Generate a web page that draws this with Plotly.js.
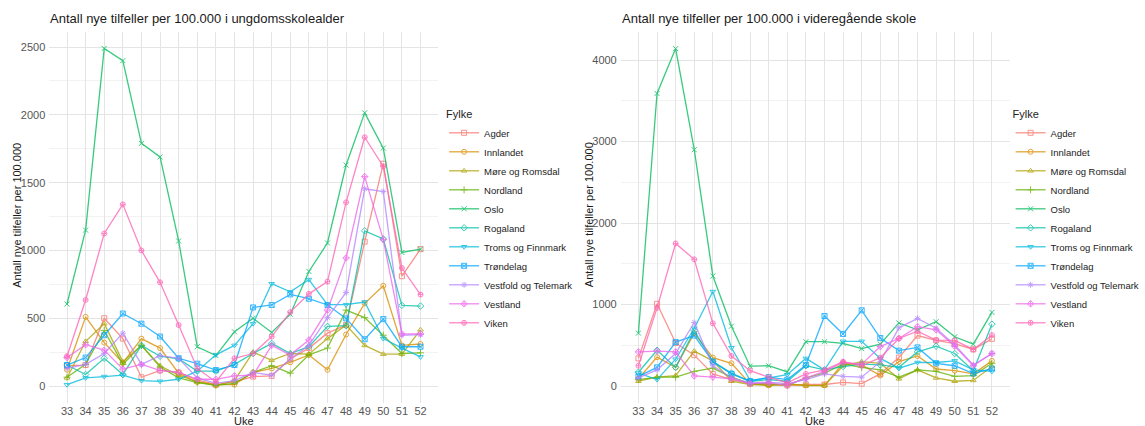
<!DOCTYPE html>
<html>
<head>
<meta charset="utf-8">
<script src="https://cdn.plot.ly/plotly-3.0.1.min.js"></script>
<style>html,body{margin:0;padding:0;background:#fff;}#chart{width:1145px;height:426px;}</style>
</head>
<body>
<div id="chart"></div>
<script>
// Weeks (Uke)
const weeks = [33,34,35,36,37,38,39,40,41,42,43,44,45,46,47,48,49,50,51,52];
const fylker = ["Agder","Innlandet","Møre og Romsdal","Nordland","Oslo","Rogaland","Troms og Finnmark","Trøndelag","Vestfold og Telemark","Vestland","Viken"];

// Left panel: ungdomsskolealder
const ungAgder      = [150,155,500,350,65,115,100,45,10,30,70,75,200,280,390,450,1065,1640,810,1010];
const ungInnlandet  = [120,510,320,170,350,280,95,30,10,10,100,130,175,230,120,380,610,740,300,310];
const ungMore       = [60,330,460,180,300,150,80,30,5,40,250,190,240,235,350,450,300,235,235,415];
const ungNordland   = [65,160,410,160,300,140,60,25,5,20,100,150,95,230,280,560,505,375,240,245];
const ungOslo       = [605,1150,2490,2400,1790,1690,1070,290,225,400,500,395,530,845,1055,1630,2015,1755,985,1010];
const ungRogaland   = [155,85,205,85,300,220,200,110,110,160,240,315,240,290,440,445,1145,1085,595,590];
const ungTroms      = [10,60,70,80,40,35,50,110,230,300,460,755,695,785,600,600,620,350,280,215];
const ungTrondelag  = [155,210,375,535,460,365,205,165,118,155,580,598,676,644,598,499,345,494,290,290];
const ungVestfold   = [130,160,240,390,160,225,205,60,20,40,100,80,200,300,505,690,1455,1435,375,380];
const ungVestland   = [210,305,265,125,160,115,100,50,50,75,80,300,230,340,560,945,1545,1080,385,385];
const ungViken      = [220,635,1125,1340,1000,765,450,130,30,205,240,365,545,680,770,1355,1835,1620,870,675];

// Right panel: videregående skole
const vgsAgder      = [340,1010,530,380,150,80,30,20,10,20,20,45,30,150,350,620,560,520,450,580];
const vgsInnlandet  = [90,355,230,650,350,280,30,10,20,10,10,280,260,130,300,370,210,190,150,310];
const vgsMore       = [60,110,130,430,310,60,20,10,30,5,5,250,300,280,90,200,100,60,70,240];
const vgsNordland   = [80,110,110,180,220,110,30,30,10,100,160,270,230,200,110,200,180,120,130,280];
const vgsOslo       = [650,3590,4140,2900,1350,735,245,250,175,545,545,525,460,515,775,690,790,605,515,905];
const vgsRogaland   = [170,440,230,680,300,160,60,80,60,250,200,240,270,260,230,420,490,400,190,760];
const vgsTroms      = [160,80,330,710,1160,470,70,100,140,340,200,550,550,340,220,290,290,310,200,180];
const vgsTrondelag  = [120,230,540,620,300,150,60,110,80,260,860,640,930,590,435,475,280,250,155,215];
const vgsVestfold   = [100,200,400,780,250,100,40,50,30,80,150,120,110,300,715,830,710,505,260,400];
const vgsVestland   = [420,430,420,125,110,90,30,40,10,100,180,290,270,485,585,730,690,490,250,400];
const vgsViken      = [250,960,1750,1555,770,370,190,110,40,150,200,300,250,350,585,675,565,560,450,625];

const ungSeries = [ungAgder,ungInnlandet,ungMore,ungNordland,ungOslo,ungRogaland,ungTroms,ungTrondelag,ungVestfold,ungVestland,ungViken];
const vgsSeries = [vgsAgder,vgsInnlandet,vgsMore,vgsNordland,vgsOslo,vgsRogaland,vgsTroms,vgsTrondelag,vgsVestfold,vgsVestland,vgsViken];

const colors = ["#F8766D","#DB8E00","#AEA200","#64B200","#00BD5C","#00C1A7","#00BADE","#00A6FF","#B385FF","#EF67EB","#FF63B6"];
const symbols = ["square-open","circle-open","triangle-up-open","cross-thin-open","x-thin-open","diamond-open","triangle-down-open","square-x-open","asterisk-open","diamond-cross-open","circle-cross-open"];

const traces = [];
function addPanel(series, xa, ya, lg) {
  series.forEach((vals, i) => {
    traces.push({
      x: weeks, y: vals, name: fylker[i], type: "scatter", mode: "lines+markers",
      xaxis: xa, yaxis: ya, legend: lg, opacity: 0.78,
      line: {color: colors[i], width: 1.3},
      marker: {color: colors[i], symbol: symbols[i], size: 5, line: {width: 1, color: colors[i]}},
      hoverinfo: "x+y+name"
    });
  });
}
addPanel(ungSeries, "x", "y", "legend");
addPanel(vgsSeries, "x2", "y2", "legend2");

const W = 1145, H = 426;
const px = v => v / W;
const py = v => (H - v) / H;
const FONT = "Liberation Sans, Arial, sans-serif";
const gridC = "#e4e4e4";
const minorC = "#f2f2f2";
const tickF = {family: FONT, size: 11, color: "#555555"};

const xBase = {
  range: [32.05, 52.95], tickvals: weeks, ticktext: weeks.map(String),
  showgrid: true, gridcolor: gridC, gridwidth: 1, zeroline: false, showline: false,
  ticks: "", tickfont: tickF, fixedrange: true
};

const legendBase = {
  xanchor: "left", yanchor: "top",
  bgcolor: "rgba(0,0,0,0)", borderwidth: 0,
  title: {text: "Fylke", font: {family: FONT, size: 11, color: "#222"}},
  font: {family: FONT, size: 9.5, color: "#222"}, itemwidth: 30
};

const layout = {
  width: W, height: H,
  margin: {l: 0, r: 0, t: 0, b: 0},
  paper_bgcolor: "#ffffff", plot_bgcolor: "#ffffff",
  font: {family: FONT},
  showlegend: true,
  xaxis: Object.assign({}, xBase, {domain: [px(50), px(444)], anchor: "y"}),
  xaxis2: Object.assign({}, xBase, {domain: [px(629), px(1023)], anchor: "y2"}),
  yaxis: {
    domain: [23/H, 394.5/H], anchor: "x", range: [-125, 2615],
    tickvals: [0,500,1000,1500,2000,2500], showgrid: true, gridcolor: gridC,
    minor: {dtick: 250, tick0: 0, showgrid: true, gridcolor: minorC, ticks: ""},
    zeroline: false, showline: false, ticks: "", tickfont: tickF, ticklabelstandoff: 3
  },
  yaxis2: {
    domain: [23/H, 394.5/H], anchor: "x2", range: [-207, 4350],
    tickvals: [0,1000,2000,3000,4000], showgrid: true, gridcolor: gridC,
    minor: {dtick: 500, tick0: 0, showgrid: true, gridcolor: minorC, ticks: ""},
    zeroline: false, showline: false, ticks: "", tickfont: tickF, ticklabelstandoff: 3
  },
  legend: Object.assign({}, legendBase, {x: px(450), y: py(104)}),
  legend2: Object.assign({}, legendBase, {x: px(1024), y: py(104)}),
  annotations: [
    {text: "Antall nye tilfeller per 100.000 i ungdomsskolealder", xref: "paper", yref: "paper",
     x: px(49), y: py(19), xanchor: "left", yanchor: "middle", showarrow: false,
     font: {family: FONT, size: 13, color: "#1a1a1a"}},
    {text: "Antall nye tilfeller per 100.000 i videregående skole", xref: "paper", yref: "paper",
     x: px(628), y: py(19), xanchor: "left", yanchor: "middle", showarrow: false,
     font: {family: FONT, size: 13, color: "#1a1a1a"}},
    {text: "Antall nye tilfeller per 100.000", xref: "paper", yref: "paper",
     x: px(17), y: py(215), xanchor: "center", yanchor: "middle", textangle: -90, showarrow: false,
     font: {family: FONT, size: 11, color: "#1a1a1a"}},
    {text: "Antall nye tilfeller per 100.000", xref: "paper", yref: "paper",
     x: px(597), y: py(215), xanchor: "center", yanchor: "middle", textangle: -90, showarrow: false,
     font: {family: FONT, size: 11, color: "#1a1a1a"}},
    {text: "Uke", xref: "paper", yref: "paper",
     x: px(247), y: py(421), xanchor: "center", yanchor: "middle", showarrow: false,
     font: {family: FONT, size: 11, color: "#1a1a1a"}},
    {text: "Uke", xref: "paper", yref: "paper",
     x: px(826), y: py(421), xanchor: "center", yanchor: "middle", showarrow: false,
     font: {family: FONT, size: 11, color: "#1a1a1a"}}
  ]
};

Plotly.newPlot("chart", traces, layout, {displayModeBar: false, staticPlot: true});
</script>
</body>
</html>
